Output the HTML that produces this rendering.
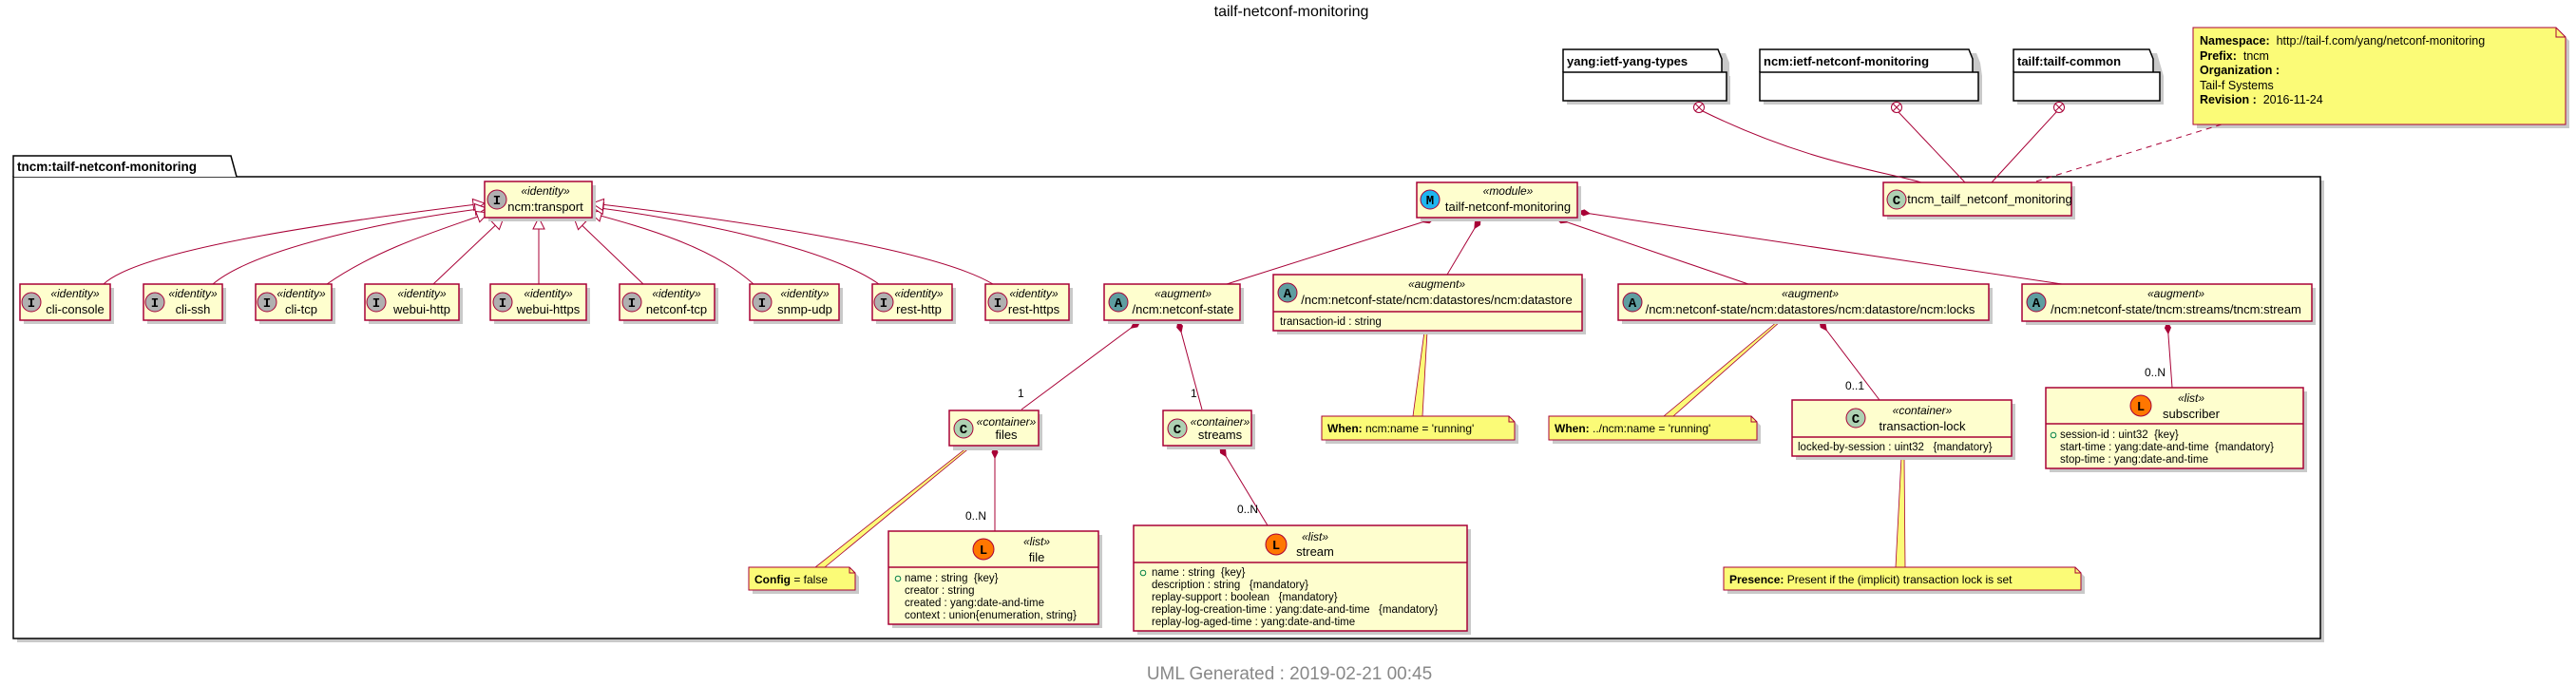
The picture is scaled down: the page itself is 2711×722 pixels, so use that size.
<!DOCTYPE html>
<html><head><meta charset="utf-8"><style>
html,body{margin:0;padding:0;background:#fff;}
svg{display:block;font-family:"Liberation Sans","DejaVu Sans",sans-serif;}
text{white-space:pre;}
.b{fill:#FEFECE;stroke:#A80036;stroke-width:1.5;}
.sh{fill:#c9c9c9;}
.ln{stroke:#A80036;stroke-width:1;fill:none;}
.st{font-style:italic;font-size:12px;fill:#000;}
.nm{font-size:13px;fill:#000;}
.at{font-size:11.5px;fill:#000;}
.nt{fill:#FBFB77;stroke:#A80036;stroke-width:1;}
.ic{stroke:#A80036;stroke-width:1;}
.il{font-family:"Liberation Mono",monospace;font-weight:bold;font-size:14px;text-anchor:middle;}
</style></head><body>
<svg width="2711" height="722" viewBox="0 0 2711 722" xmlns="http://www.w3.org/2000/svg" xml:space="preserve">
<defs>
<marker id="dia" markerWidth="14" markerHeight="8" refX="0" refY="4" orient="auto" markerUnits="userSpaceOnUse">
<path d="M0,4 L6,1 L12,4 L6,7 Z" fill="#A80036" stroke="#A80036"/></marker>
<marker id="tri" markerWidth="14" markerHeight="14" refX="13" refY="7" orient="auto" markerUnits="userSpaceOnUse">
<path d="M1,1 L13,7 L1,13 Z" fill="#fff" stroke="#A80036"/></marker>
</defs>

<text x="1359" y="17" font-size="16" text-anchor="middle">tailf-netconf-monitoring</text>

<g>
<path d="M1649,80 L1649,56 L1816,56 L1820,66 L1820,80 L1821,80 L1821,110 L1649,110Z" class="sh"/>
<path d="M1645,76 L1645,52 L1808,52 L1812,62 L1812,76" fill="#fff" stroke="#000" stroke-width="1.5"/>
<rect x="1645" y="76" width="172" height="30" fill="#fff" stroke="#000" stroke-width="1.5"/>
<text x="1649" y="69" font-size="13" font-weight="bold">yang:ietf-yang-types</text>

<path d="M1856,80 L1856,56 L2080,56 L2084,66 L2086,80 L2086,110 L1856,110Z" class="sh"/>
<path d="M1852,76 L1852,52 L2072,52 L2076,62 L2076,76" fill="#fff" stroke="#000" stroke-width="1.5"/>
<rect x="1852" y="76" width="230" height="30" fill="#fff" stroke="#000" stroke-width="1.5"/>
<text x="1856" y="69" font-size="13" font-weight="bold">ncm:ietf-netconf-monitoring</text>

<path d="M2123,80 L2123,56 L2270,56 L2277,80 L2277,110 L2123,110Z" class="sh"/>
<path d="M2119,76 L2119,52 L2262,52 L2266,62 L2266,76" fill="#fff" stroke="#000" stroke-width="1.5"/>
<rect x="2119" y="76" width="154" height="30" fill="#fff" stroke="#000" stroke-width="1.5"/>
<text x="2123" y="69" font-size="13" font-weight="bold">tailf:tailf-common</text>
</g>

<path d="M2312,33 L2694,33 L2704,43 L2704,135 L2312,135Z" class="sh"/>
<path d="M2308,29 L2690,29 L2700,39 L2700,131 L2308,131Z" class="nt"/>
<path d="M2690,29 L2690,39 L2700,39" fill="none" stroke="#A80036"/>
<g font-size="12.5">
<text x="2315" y="47"><tspan font-weight="bold">Namespace:</tspan>  http://tail-f.com/yang/netconf-monitoring</text>
<text x="2315" y="63"><tspan font-weight="bold">Prefix:</tspan>  tncm</text>
<text x="2315" y="78" font-weight="bold">Organization :</text>
<text x="2315" y="94">Tail-f Systems</text>
<text x="2315" y="109"><tspan font-weight="bold">Revision :</tspan>  2016-11-24</text>
</g>

<rect x="18" y="190" width="2428" height="486" class="sh"/>
<rect x="14" y="186" width="2428" height="486" fill="#fff" stroke="#000" stroke-width="1.5"/>
<path d="M14,186 L14,164 L243,164 L249,186" fill="#fff" stroke="#000" stroke-width="1.5"/>
<text x="18" y="180" font-size="13.5" font-weight="bold">tncm:tailf-netconf-monitoring</text>

<path class="ln" d="M1792,117 C1900,170 1980,180 2022,192"/>
<path class="ln" d="M1998,118 L2068,192"/>
<path class="ln" d="M2164,118 L2096,192"/>
<path class="ln" d="M2338,131 L2136,193" stroke-dasharray="6,5"/>
<g fill="#fff" stroke="#A80036">
<circle cx="1788" cy="113" r="5.5"/><path d="M1784,109 L1792,117 M1792,109 L1784,117"/>
<circle cx="1996" cy="113" r="5.5"/><path d="M1992,109 L2000,117 M2000,109 L1992,117"/>
<circle cx="2167" cy="113" r="5.5"/><path d="M2163,109 L2171,117 M2171,109 L2163,117"/>
</g>

<g class="ln">
<path d="M109,299 C150,260 380,230 510,214" marker-end="url(#tri)"/>
<path d="M224,299 C270,260 420,230 512,219" marker-end="url(#tri)"/>
<path d="M344,299 C400,260 470,240 514,224" marker-end="url(#tri)"/>
<path d="M456,299 L530,229" marker-end="url(#tri)"/>
<path d="M567,299 L567,229" marker-end="url(#tri)"/>
<path d="M677,299 L604,229" marker-end="url(#tri)"/>
<path d="M793,299 C750,260 680,240 621,224" marker-end="url(#tri)"/>
<path d="M925,299 C870,260 720,230 623,218" marker-end="url(#tri)"/>
<path d="M1045,299 C980,260 760,230 623,214" marker-end="url(#tri)"/>
</g>

<g class="ln">
<path d="M1509,230 L1291,299" marker-start="url(#dia)"/>
<path d="M1558,230 L1523,289" marker-start="url(#dia)"/>
<path d="M1638,230 L1840,299" marker-start="url(#dia)"/>
<path d="M1661,223 L2170,299" marker-start="url(#dia)"/>
<path d="M1200,338 L1075,431" marker-start="url(#dia)"/>
<path d="M1240,338 L1265,431" marker-start="url(#dia)"/>
<path d="M1047,470 L1047,559" marker-start="url(#dia)"/>
<path d="M1284,470 L1334,553" marker-start="url(#dia)"/>
<path d="M1915,338 L1978,421" marker-start="url(#dia)"/>
<path d="M2281,339 L2286,408" marker-start="url(#dia)"/>
</g>
<g font-size="12">
<text x="1071" y="418">1</text>
<text x="1253" y="418">1</text>
<text x="1016" y="547">0..N</text>
<text x="1302" y="540">0..N</text>
<text x="1942" y="410">0..1</text>
<text x="2257" y="396">0..N</text>
</g>

<g fill="#FBFB77" stroke="#A80036" stroke-width="0.8">
<path d="M1019,470 L1022,470 L868,597 L858,597Z"/>
<path d="M1499,349 L1502,349 L1497,438 L1487,438Z"/>
<path d="M1871,338 L1874,338 L1761,438 L1751,438Z"/>
<path d="M2001,481 L2004,481 L2005,597 L1995,597Z"/>
</g>

<g>
<rect x="514" y="195" width="113" height="38" class="sh"/>
<rect x="510" y="191" width="113" height="38" class="b"/>
<circle cx="523" cy="210" r="10" fill="#B0B0B0" class="ic"/><text x="523" y="215" class="il">I</text>
<text x="574" y="205" class="st" text-anchor="middle">«identity»</text>
<text x="574" y="222" class="nm" text-anchor="middle">ncm:transport</text>
</g>
<g>
<rect x="25" y="303" width="95" height="38" class="sh"/><rect x="21" y="299" width="95" height="38" class="b"/>
<circle cx="33" cy="318" r="10" fill="#B0B0B0" class="ic"/><text x="33" y="323" class="il">I</text>
<text x="79" y="313" class="st" text-anchor="middle">«identity»</text><text x="79" y="330" class="nm" text-anchor="middle">cli-console</text>

<rect x="155" y="303" width="83" height="38" class="sh"/><rect x="151" y="299" width="83" height="38" class="b"/>
<circle cx="163" cy="318" r="10" fill="#B0B0B0" class="ic"/><text x="163" y="323" class="il">I</text>
<text x="203" y="313" class="st" text-anchor="middle">«identity»</text><text x="203" y="330" class="nm" text-anchor="middle">cli-ssh</text>

<rect x="273" y="303" width="80" height="38" class="sh"/><rect x="269" y="299" width="80" height="38" class="b"/>
<circle cx="281" cy="318" r="10" fill="#B0B0B0" class="ic"/><text x="281" y="323" class="il">I</text>
<text x="317" y="313" class="st" text-anchor="middle">«identity»</text><text x="317" y="330" class="nm" text-anchor="middle">cli-tcp</text>

<rect x="388" y="303" width="99" height="38" class="sh"/><rect x="384" y="299" width="99" height="38" class="b"/>
<circle cx="396" cy="318" r="10" fill="#B0B0B0" class="ic"/><text x="396" y="323" class="il">I</text>
<text x="444" y="313" class="st" text-anchor="middle">«identity»</text><text x="444" y="330" class="nm" text-anchor="middle">webui-http</text>

<rect x="520" y="303" width="101" height="38" class="sh"/><rect x="516" y="299" width="101" height="38" class="b"/>
<circle cx="529" cy="318" r="10" fill="#B0B0B0" class="ic"/><text x="529" y="323" class="il">I</text>
<text x="577" y="313" class="st" text-anchor="middle">«identity»</text><text x="577" y="330" class="nm" text-anchor="middle">webui-https</text>

<rect x="656" y="303" width="100" height="38" class="sh"/><rect x="652" y="299" width="100" height="38" class="b"/>
<circle cx="665" cy="318" r="10" fill="#B0B0B0" class="ic"/><text x="665" y="323" class="il">I</text>
<text x="712" y="313" class="st" text-anchor="middle">«identity»</text><text x="712" y="330" class="nm" text-anchor="middle">netconf-tcp</text>

<rect x="793" y="303" width="94" height="38" class="sh"/><rect x="789" y="299" width="94" height="38" class="b"/>
<circle cx="802" cy="318" r="10" fill="#B0B0B0" class="ic"/><text x="802" y="323" class="il">I</text>
<text x="847" y="313" class="st" text-anchor="middle">«identity»</text><text x="847" y="330" class="nm" text-anchor="middle">snmp-udp</text>

<rect x="922" y="303" width="84" height="38" class="sh"/><rect x="918" y="299" width="84" height="38" class="b"/>
<circle cx="930" cy="318" r="10" fill="#B0B0B0" class="ic"/><text x="930" y="323" class="il">I</text>
<text x="967" y="313" class="st" text-anchor="middle">«identity»</text><text x="967" y="330" class="nm" text-anchor="middle">rest-http</text>

<rect x="1041" y="303" width="88" height="38" class="sh"/><rect x="1037" y="299" width="88" height="38" class="b"/>
<circle cx="1050" cy="318" r="10" fill="#B0B0B0" class="ic"/><text x="1050" y="323" class="il">I</text>
<text x="1088" y="313" class="st" text-anchor="middle">«identity»</text><text x="1088" y="330" class="nm" text-anchor="middle">rest-https</text>
</g>

<rect x="1495" y="196" width="169" height="37" class="sh"/><rect x="1491" y="192" width="169" height="37" class="b"/>
<circle cx="1505" cy="210" r="10" fill="#1FB6F0" class="ic"/><text x="1505" y="215" class="il">M</text>
<text x="1587" y="205" class="st" text-anchor="middle">«module»</text>
<text x="1587" y="222" class="nm" text-anchor="middle">tailf-netconf-monitoring</text>

<rect x="1986" y="196" width="198" height="35" class="sh"/><rect x="1982" y="192" width="198" height="35" class="b"/>
<circle cx="1996" cy="210" r="10" fill="#ADD1B2" class="ic"/><text x="1996" y="215" class="il">C</text>
<text x="2094" y="214" class="nm" text-anchor="middle">tncm_tailf_netconf_monitoring</text>

<rect x="1166" y="303" width="143" height="38" class="sh"/><rect x="1162" y="299" width="143" height="38" class="b"/>
<circle cx="1177" cy="318" r="10" fill="#5E9EA0" class="ic"/><text x="1177" y="323" class="il">A</text>
<text x="1245" y="313" class="st" text-anchor="middle">«augment»</text><text x="1245" y="330" class="nm" text-anchor="middle">/ncm:netconf-state</text>

<rect x="1344" y="293" width="325" height="59" class="sh"/><rect x="1340" y="289" width="325" height="59" class="b"/>
<line x1="1340" y1="328" x2="1665" y2="328" stroke="#A80036" stroke-width="1.5"/>
<circle cx="1355" cy="308" r="10" fill="#5E9EA0" class="ic"/><text x="1355" y="313" class="il">A</text>
<text x="1512" y="303" class="st" text-anchor="middle">«augment»</text><text x="1512" y="320" class="nm" text-anchor="middle">/ncm:netconf-state/ncm:datastores/ncm:datastore</text>
<text x="1347" y="342" class="at">transaction-id : string</text>

<rect x="1707" y="303" width="390" height="38" class="sh"/><rect x="1703" y="299" width="390" height="38" class="b"/>
<circle cx="1718" cy="318" r="10" fill="#5E9EA0" class="ic"/><text x="1718" y="323" class="il">A</text>
<text x="1905" y="313" class="st" text-anchor="middle">«augment»</text><text x="1905" y="330" class="nm" text-anchor="middle">/ncm:netconf-state/ncm:datastores/ncm:datastore/ncm:locks</text>

<rect x="2132" y="303" width="305" height="39" class="sh"/><rect x="2128" y="299" width="305" height="39" class="b"/>
<circle cx="2143" cy="318" r="10" fill="#5E9EA0" class="ic"/><text x="2143" y="323" class="il">A</text>
<text x="2290" y="313" class="st" text-anchor="middle">«augment»</text><text x="2290" y="330" class="nm" text-anchor="middle">/ncm:netconf-state/tncm:streams/tncm:stream</text>

<rect x="1003" y="436" width="94" height="38" class="sh"/><rect x="999" y="432" width="94" height="37" class="b"/>
<circle cx="1014" cy="451" r="10" fill="#ADD1B2" class="ic"/><text x="1014" y="456" class="il">C</text>
<text x="1059" y="448" class="st" text-anchor="middle">«container»</text><text x="1059" y="462" class="nm" text-anchor="middle">files</text>

<rect x="1228" y="436" width="93" height="37" class="sh"/><rect x="1224" y="432" width="93" height="37" class="b"/>
<circle cx="1239" cy="451" r="10" fill="#ADD1B2" class="ic"/><text x="1239" y="456" class="il">C</text>
<text x="1284" y="448" class="st" text-anchor="middle">«container»</text><text x="1284" y="462" class="nm" text-anchor="middle">streams</text>

<rect x="1890" y="425" width="231" height="59" class="sh"/><rect x="1886" y="421" width="231" height="59" class="b"/>
<line x1="1886" y1="460" x2="2117" y2="460" stroke="#A80036" stroke-width="1.5"/>
<circle cx="1953" cy="440" r="10" fill="#ADD1B2" class="ic"/><text x="1953" y="445" class="il">C</text>
<text x="2023" y="436" class="st" text-anchor="middle">«container»</text><text x="2023" y="453" class="nm" text-anchor="middle">transaction-lock</text>
<text x="1892" y="474" class="at">locked-by-session : uint32   {mandatory}</text>

<rect x="2157" y="412" width="271" height="85" class="sh"/><rect x="2153" y="408" width="271" height="85" class="b"/>
<line x1="2153" y1="446" x2="2424" y2="446" stroke="#A80036" stroke-width="1.5"/>
<circle cx="2253" cy="427" r="11" fill="#FF7700" class="ic"/><text x="2253" y="432" class="il">L</text>
<text x="2306" y="423" class="st" text-anchor="middle">«list»</text><text x="2306" y="440" class="nm" text-anchor="middle">subscriber</text>
<circle cx="2161" cy="458" r="2.8" fill="none" stroke="#038048"/>
<text x="2168" y="461" class="at">session-id : uint32  {key}</text>
<text x="2168" y="474" class="at">start-time : yang:date-and-time  {mandatory}</text>
<text x="2168" y="487" class="at">stop-time : yang:date-and-time</text>

<rect x="939" y="563" width="221" height="98" class="sh"/><rect x="935" y="559" width="221" height="98" class="b"/>
<line x1="935" y1="597" x2="1156" y2="597" stroke="#A80036" stroke-width="1.5"/>
<circle cx="1035" cy="578" r="11" fill="#FF7700" class="ic"/><text x="1035" y="583" class="il">L</text>
<text x="1091" y="574" class="st" text-anchor="middle">«list»</text><text x="1091" y="591" class="nm" text-anchor="middle">file</text>
<circle cx="945" cy="609" r="2.8" fill="none" stroke="#038048"/>
<text x="952" y="612" class="at">name : string  {key}</text>
<text x="952" y="625" class="at">creator : string</text>
<text x="952" y="638" class="at">created : yang:date-and-time</text>
<text x="952" y="651" class="at">context : union{enumeration, string}</text>

<rect x="1197" y="557" width="351" height="111" class="sh"/><rect x="1193" y="553" width="351" height="111" class="b"/>
<line x1="1193" y1="592" x2="1544" y2="592" stroke="#A80036" stroke-width="1.5"/>
<circle cx="1343" cy="573" r="11" fill="#FF7700" class="ic"/><text x="1343" y="578" class="il">L</text>
<text x="1384" y="569" class="st" text-anchor="middle">«list»</text><text x="1384" y="585" class="nm" text-anchor="middle">stream</text>
<circle cx="1203" cy="603" r="2.8" fill="none" stroke="#038048"/>
<text x="1212" y="606" class="at">name : string  {key}</text>
<text x="1212" y="619" class="at">description : string   {mandatory}</text>
<text x="1212" y="632" class="at">replay-support : boolean   {mandatory}</text>
<text x="1212" y="645" class="at">replay-log-creation-time : yang:date-and-time   {mandatory}</text>
<text x="1212" y="658" class="at">replay-log-aged-time : yang:date-and-time</text>

<g font-size="12">
<path d="M792,601 L898,601 L904,607 L904,625 L792,625Z" class="sh"/>
<path d="M788,597 L894,597 L900,603 L900,621 L788,621Z" class="nt"/>
<path d="M894,597 L894,603 L900,603" fill="none" stroke="#A80036"/>
<text x="794" y="614"><tspan font-weight="bold">Config</tspan> = false</text>

<path d="M1395,442 L1592,442 L1598,448 L1598,467 L1395,467Z" class="sh"/>
<path d="M1391,438 L1588,438 L1594,444 L1594,463 L1391,463Z" class="nt"/>
<path d="M1588,438 L1588,444 L1594,444" fill="none" stroke="#A80036"/>
<text x="1397" y="455"><tspan font-weight="bold">When:</tspan> ncm:name = 'running'</text>

<path d="M1634,442 L1847,442 L1853,448 L1853,467 L1634,467Z" class="sh"/>
<path d="M1630,438 L1843,438 L1849,444 L1849,463 L1630,463Z" class="nt"/>
<path d="M1843,438 L1843,444 L1849,444" fill="none" stroke="#A80036"/>
<text x="1636" y="455"><tspan font-weight="bold">When:</tspan> ../ncm:name = 'running'</text>

<path d="M1818,601 L2188,601 L2194,607 L2194,625 L1818,625Z" class="sh"/>
<path d="M1814,597 L2184,597 L2190,603 L2190,621 L1814,621Z" class="nt"/>
<path d="M2184,597 L2184,603 L2190,603" fill="none" stroke="#A80036"/>
<text x="1820" y="614"><tspan font-weight="bold">Presence:</tspan> Present if the (implicit) transaction lock is set</text>
</g>

<text x="1357" y="715" font-size="19" fill="#888" text-anchor="middle">UML Generated : 2019-02-21 00:45</text>
</svg>
</body></html>
